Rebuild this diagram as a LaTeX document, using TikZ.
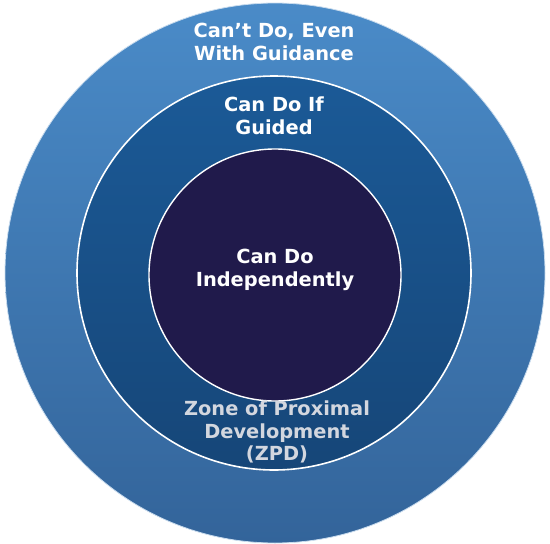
\documentclass[tikz,border=0pt]{standalone}
\usepackage{fontspec}
\setmainfont{DejaVu Sans}
\definecolor{outertop}{HTML}{4A8BC8}
\definecolor{outermid}{HTML}{4484C0}
\definecolor{outerbot}{HTML}{33649A}
\definecolor{guidedtop}{HTML}{1B5A97}
\definecolor{guidedbot}{HTML}{164678}
\definecolor{selfdone}{HTML}{201A4B}
\definecolor{zpdgray}{HTML}{D3D7DF}
\tikzset{zonetext/.style={text=white,font=\fontsize{19.4}{22.5}\selectfont\bfseries,align=center}}

\begin{document}
\begin{tikzpicture}[x=1pt,y=-1pt]
\useasboundingbox (0,0) rectangle (550,544);
\shade[top color=outertop,middle color=outermid,bottom color=outerbot,
       draw=white!70!outertop,line width=0.8pt] (275,273) circle (270);
\shade[top color=guidedtop,bottom color=guidedbot,
       draw=white,line width=1.6pt] (274,273) circle (197);
\filldraw[fill=selfdone,draw=white,line width=1.4pt] (275,275) circle (126);
% labels
\node[zonetext] (cant) at (274,42) {Can’t Do, Even\\With Guidance};
\node[zonetext] (guided) at (274,116) {Can Do If\\Guided};
\node[zonetext] (alone) at (275,270) {Can Do\\Independently};
\node[zonetext,text=zpdgray] (zpd) at (277,432) {Zone of Proximal\\Development\\(ZPD)};
\end{tikzpicture}
\end{document}
